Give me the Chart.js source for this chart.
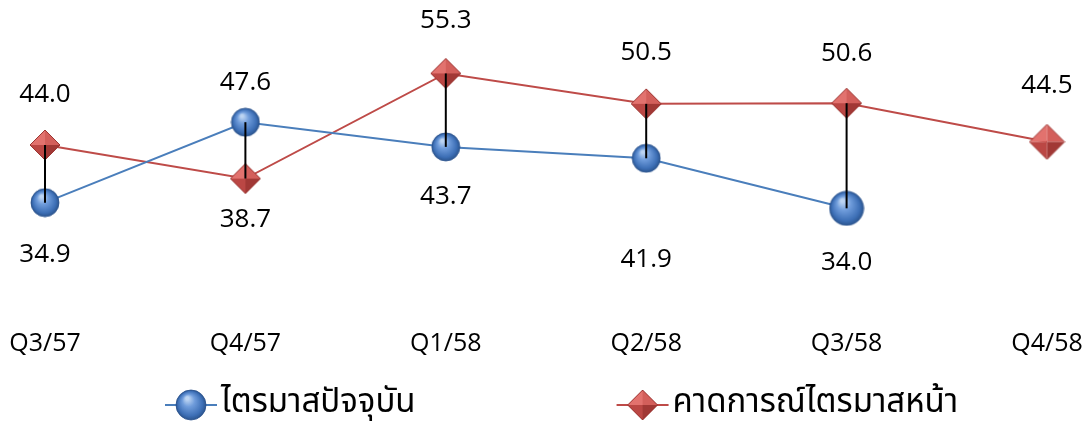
<!DOCTYPE html>
<html>
<head>
<meta charset="utf-8">
<script src="https://cdn.jsdelivr.net/npm/chart.js@4"></script>
<style>
    html, body { margin: 0; padding: 0; background: #fff; }
</style>
</head>
<body>
<canvas id="chart" width="1086" height="421"></canvas>
<script>
'use strict'

// --------------------------------------------
// DONNEES
// --------------------------------------------
const QUARTERS     = ['Q3/57', 'Q4/57', 'Q1/58', 'Q2/58', 'Q3/58', 'Q4/58'] ;
const CURRENT      = [34.9, 47.6, 43.7, 41.9, 34.0, null] ;
const NEXT         = [44.0, 38.7, 55.3, 50.5, 50.6, 44.5] ;
const SERIES_NAMES = ['ไตรมาสปัจจุบัน', 'คาดการณ์ไตรมาสหน้า'] ;

// --------------------------------------------
// STYLE
// --------------------------------------------
const BLUE = '#4a7ebb' ;
const RED  = '#be4b48' ;
const FONT = '"Open Sans", "DejaVu Sans", sans-serif' ;
const THAI_FONT = '"Noto Sans Thai", "Noto Sans", "DejaVu Sans", sans-serif' ;

const CURRENT_SIZE     = [14, 14, 14, 14, 17, 14] ;
const NEXT_SIZE        = [15, 15, 15, 15, 15, 17.5] ;
const CURRENT_LABEL_DY = [52, -40, 50, 101, 54, 0] ;
const NEXT_LABEL_DY    = [-50, 41, -53, -51, -50, -56] ;


// --------------------------------------------
// MARQUEURS (boule bleue, losange rouge)
// --------------------------------------------
function makeBall(r) {
    const c = document.createElement('canvas') ;
    const s = Math.ceil(r * 2 + 2) ;
    c.width = s ; c.height = s ;
    const g = c.getContext('2d') ;
    const cx = s / 2, cy = s / 2 ;
    const grad = g.createRadialGradient(cx - r * 0.25, cy - r * 0.45, r * 0.1, cx, cy, r) ;
    grad.addColorStop(0, '#bcd4f2') ;
    grad.addColorStop(0.35, '#6f9cdb') ;
    grad.addColorStop(0.8, '#3d6fb6') ;
    grad.addColorStop(1, '#2b558f') ;
    g.fillStyle = grad ;
    g.beginPath() ;
    g.arc(cx, cy, r, 0, Math.PI * 2) ;
    g.fill() ;
    g.strokeStyle = 'rgba(40,80,140,0.8)' ;
    g.lineWidth = 1 ;
    g.stroke() ;
    return c ;
}

function makeDiamond(r) {
    const c = document.createElement('canvas') ;
    const s = Math.ceil(r * 2 + 2) ;
    c.width = s ; c.height = s ;
    const g = c.getContext('2d') ;
    const cx = s / 2, cy = s / 2 ;
    const top = [cx, cy - r], right = [cx + r, cy], bottom = [cx, cy + r], left = [cx - r, cy] ;
    const facets = [
        [left, top, '#e2726e'],
        [top, right, '#d35f5b'],
        [right, bottom, '#a13835'],
        [bottom, left, '#bb4744'],
    ] ;
    facets.forEach(([p1, p2, col]) => {
        g.fillStyle = col ;
        g.beginPath() ;
        g.moveTo(cx, cy) ;
        g.lineTo(p1[0], p1[1]) ;
        g.lineTo(p2[0], p2[1]) ;
        g.closePath() ;
        g.fill() ;
    }) ;
    g.strokeStyle = '#9c3633' ;
    g.lineWidth = 1 ;
    g.beginPath() ;
    g.moveTo(...top) ; g.lineTo(...right) ; g.lineTo(...bottom) ; g.lineTo(...left) ;
    g.closePath() ;
    g.stroke() ;
    return c ;
}

const ballImgs    = CURRENT_SIZE.map(makeBall) ;
const diamondImgs = NEXT_SIZE.map(makeDiamond) ;
const legendImgs  = [makeBall(15), makeDiamond(15)] ;


// --------------------------------------------
// PLUGIN : lignes haut-bas + étiquettes
// --------------------------------------------
const hiLowAndLabels = {
    id: 'hiLowAndLabels',
    afterDatasetsDraw(chart) {
        const ctx = chart.ctx ;
        const a = chart.getDatasetMeta(0).data ;
        const b = chart.getDatasetMeta(1).data ;

        ctx.save() ;
        ctx.strokeStyle = '#000' ;
        ctx.lineWidth = 2 ;
        QUARTERS.forEach((q, i) => {
            if (CURRENT[i] == null || NEXT[i] == null) return ;
            ctx.beginPath() ;
            ctx.moveTo(a[i].x, a[i].y) ;
            ctx.lineTo(b[i].x, b[i].y) ;
            ctx.stroke() ;
        }) ;

        ctx.fillStyle = '#000' ;
        ctx.font = `26px ${FONT}` ;
        ctx.textAlign = 'center' ;
        ctx.textBaseline = 'middle' ;
        CURRENT.forEach((v, i) => {
            if (v == null) return ;
            ctx.fillText(v.toFixed(1), a[i].x, a[i].y + CURRENT_LABEL_DY[i]) ;
        }) ;
        NEXT.forEach((v, i) => {
            if (v == null) return ;
            ctx.fillText(v.toFixed(1), b[i].x, b[i].y + NEXT_LABEL_DY[i]) ;
        }) ;
        ctx.restore() ;
    }
} ;

// --------------------------------------------
// PLUGIN : légende (ligne + marqueur + texte)
// --------------------------------------------
const lineLegend = {
    id: 'lineLegend',
    afterDraw(chart) {
        const ctx = chart.ctx ;
        const colors = [BLUE, RED] ;
        const markW = 52, gapText = 4, gapItems = 201, y = 405 ;
        ctx.save() ;
        ctx.font = `33px ${THAI_FONT}` ;
        let x = 165 ;
        SERIES_NAMES.forEach((name, i) => {
            ctx.strokeStyle = colors[i] ;
            ctx.lineWidth = 2 ;
            ctx.beginPath() ;
            ctx.moveTo(x, y) ;
            ctx.lineTo(x + markW, y) ;
            ctx.stroke() ;
            const img = legendImgs[i] ;
            ctx.drawImage(img, x + markW / 2 - img.width / 2, y - img.height / 2) ;
            ctx.fillStyle = '#000' ;
            ctx.textAlign = 'left' ;
            ctx.textBaseline = 'middle' ;
            ctx.fillText(name, x + markW + gapText, y) ;
            x += markW + gapText + ctx.measureText(name).width + gapItems ;
        }) ;
        ctx.restore() ;
    }
} ;


// --------------------------------------------
// GRAPHIQUE
// --------------------------------------------
new Chart(document.getElementById('chart'), {
    type: 'line',
    data: {
        labels: QUARTERS,
        datasets: [
            {
                label: SERIES_NAMES[0],
                data: CURRENT,
                borderColor: BLUE,
                borderWidth: 2,
                pointStyle: ctx => ballImgs[ctx.dataIndex],
                pointRadius: ctx => CURRENT_SIZE[ctx.dataIndex],
                tension: 0,
            },
            {
                label: SERIES_NAMES[1],
                data: NEXT,
                borderColor: RED,
                borderWidth: 2,
                pointStyle: ctx => diamondImgs[ctx.dataIndex],
                pointRadius: ctx => NEXT_SIZE[ctx.dataIndex],
                tension: 0,
            }
        ]
    },
    options: {
        responsive: false,
        animation: false,
        layout: {
            autoPadding: false,
            padding: { left: 45, right: 39, top: 12, bottom: 30 }
        },
        plugins: {
            legend: { display: false },
            tooltip: { enabled: false },
        },
        scales: {
            x: {
                offset: false,
                grid: { display: false, drawTicks: false },
                border: { display: false },
                ticks: {
                    color: '#000',
                    font: { size: 25, family: FONT },
                    padding: 32,
                    maxRotation: 0,
                    autoSkip: false,
                },
                // les étiquettes débordent : pas de marge ajoutée sur les côtés
                afterFit: scale => {
                    scale.paddingLeft = 0 ;
                    scale.paddingRight = 0 ;
                },
            },
            y: {
                display: false,
                min: 20,
                max: 65,
            }
        }
    },
    plugins: [hiLowAndLabels, lineLegend]
}) ;
</script>
</body>
</html>
